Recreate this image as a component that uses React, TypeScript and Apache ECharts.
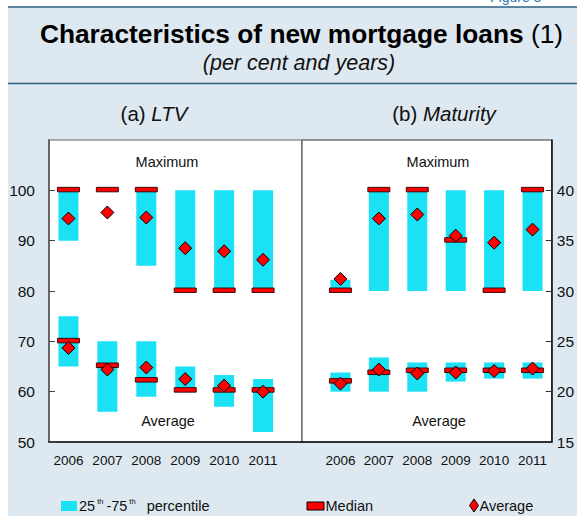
import React, { useEffect, useRef } from "react";
import * as echarts from "echarts";

const years = ["2006", "2007", "2008", "2009", "2010", "2011"];

// (a) LTV – per cent
const ltvMaxP25 = [90, 100, 85, 80, 80, 80];
const ltvMaxP75 = [100, 100, 100, 100, 100, 100];
const ltvMaxMedian = [100, 100, 100, 80, 80, 80];
const ltvMaxAverage = [94.4, 95.6, 94.6, 88.5, 87.9, 86.2];
const ltvAvgP25 = [65, 56, 59, 60, 57, 52];
const ltvAvgP75 = [75, 70, 70, 65, 63.3, 62.5];
const ltvAvgMedian = [70, 65.1, 62.2, 60.2, 60.2, 60.2];
const ltvAvgAverage = [68.7, 64.4, 64.8, 62.5, 61.2, 60];

// (b) Maturity – years
const matMaxP25 = [30, 30, 30, 30, 30, 30];
const matMaxP75 = [31.1, 40, 40, 40, 40, 40];
const matMaxMedian = [30, 40, 40, 35, 30, 40];
const matMaxAverage = [31.2, 37.2, 37.6, 35.5, 34.8, 36.1];
const matAvgP25 = [20, 20, 20, 21, 21.3, 21.3];
const matAvgP75 = [21.9, 23.4, 22.9, 22.9, 22.9, 22.9];
const matAvgMedian = [21, 21.85, 22.05, 22.05, 22.05, 22.05];
const matAvgAverage = [20.8, 22.2, 21.8, 21.9, 22.05, 22.3];

const ltvTicks = [50, 60, 70, 80, 90, 100];
const matTicks = [15, 20, 25, 30, 35, 40];

const CYAN = "#1be1f4";
const RED = "#ff0000";
const BG = "#dde8f0";
const LINE = "#2a5f80";
const FONT = "'Liberation Sans', Arial, Helvetica, sans-serif";

const rangeRows = (lo: number[], hi: number[]) => lo.map((v, i) => [i, v, hi[i]]);
const pointRows = (vals: number[]) => vals.map((v, i) => [i, v]);

function barRender(params: any, api: any) {
  const x = api.value(0);
  const p1 = api.coord([x, api.value(2)]);
  const p0 = api.coord([x, api.value(1)]);
  return {
    type: "rect",
    shape: { x: p1[0] - 10, y: p1[1], width: 20, height: p0[1] - p1[1] },
    style: { fill: CYAN },
  };
}

function medianRender(params: any, api: any) {
  const p = api.coord([api.value(0), api.value(1)]);
  return {
    type: "rect",
    shape: { x: p[0] - 11, y: p[1] - 3, width: 22, height: 4.5 },
    style: { fill: RED, stroke: "#2a0000", lineWidth: 0.9 },
  };
}

function seriesFor(idx: number, p25a: number[], p75a: number[], p25b: number[], p75b: number[], meda: number[], medb: number[], avga: number[], avgb: number[]) {
  return [
    {
      type: "custom",
      name: "25th-75th percentile",
      xAxisIndex: idx,
      yAxisIndex: idx,
      renderItem: barRender,
      encode: { x: 0, y: [1, 2] },
      data: [...rangeRows(p25a, p75a), ...rangeRows(p25b, p75b)],
      z: 2,
    },
    {
      type: "custom",
      name: "Median",
      xAxisIndex: idx,
      yAxisIndex: idx,
      renderItem: medianRender,
      encode: { x: 0, y: 1 },
      data: [...pointRows(meda), ...pointRows(medb)],
      z: 3,
    },
    {
      type: "scatter",
      name: "Average",
      xAxisIndex: idx,
      yAxisIndex: idx,
      symbol: "diamond",
      symbolSize: [13, 13],
      itemStyle: { color: RED, borderColor: "#000", borderWidth: 1, opacity: 1 },
      data: [...pointRows(avga), ...pointRows(avgb)],
      z: 4,
    },
  ];
}

export default function App() {
  const ref = useRef<HTMLDivElement>(null);
  useEffect(() => {
    document.body.style.margin = "0";
    const chart = echarts.init(ref.current!, null, { renderer: "svg" });
    const xAxisCommon = {
      type: "value",
      axisLine: { show: true, onZero: false, lineStyle: { color: "#111", width: 1.5 } },
      axisTick: { show: false },
      splitLine: { show: false },
      axisLabel: {
        customValues: [0, 1, 2, 3, 4, 5],
        formatter: (v: number) => years[Math.round(v)] ?? "",
        margin: 11,
        color: "#111",
        fontSize: 13.5,
        fontFamily: FONT,
      },
    };
    const option: any = {
      animation: false,
      textStyle: { fontFamily: FONT },
      grid: [
        { left: 49, top: 140, width: 253, height: 302, show: true, backgroundColor: "#fff", borderColor: "#666", borderWidth: 1 },
        { left: 302, top: 140, width: 254, height: 302, show: true, backgroundColor: "#fff", borderColor: "#333", borderWidth: 1 },
      ],
      xAxis: [
        { ...xAxisCommon, gridIndex: 0, min: -0.5, max: 6 },
        { ...xAxisCommon, gridIndex: 1, min: -1, max: 5.5 },
      ],
      yAxis: [
        {
          type: "value",
          gridIndex: 0,
          min: 50,
          max: 110,
          interval: 10,
          position: "left",
          axisLine: { show: true, onZero: false, lineStyle: { color: "#666", width: 2 } },
          axisTick: { show: true, inside: true, length: 6, customValues: ltvTicks, lineStyle: { color: "#444" } },
          splitLine: { show: false },
          axisLabel: { customValues: ltvTicks, margin: 14, color: "#111", fontSize: 15.5, fontFamily: FONT },
        },
        {
          type: "value",
          gridIndex: 1,
          min: 15,
          max: 45,
          interval: 5,
          position: "right",
          axisLine: { show: true, onZero: false, lineStyle: { color: "#111", width: 1.5 } },
          axisTick: { show: true, inside: true, length: 6, customValues: matTicks, lineStyle: { color: "#333" } },
          splitLine: { show: false },
          axisLabel: { customValues: matTicks, margin: 5, color: "#111", fontSize: 15.5, fontFamily: FONT },
        },
      ],
      series: [
        ...seriesFor(0, ltvMaxP25, ltvMaxP75, ltvAvgP25, ltvAvgP75, ltvMaxMedian, ltvAvgMedian, ltvMaxAverage, ltvAvgAverage),
        ...seriesFor(1, matMaxP25, matMaxP75, matAvgP25, matAvgP75, matMaxMedian, matAvgMedian, matMaxAverage, matAvgAverage),
      ],
      graphic: [
        { type: "rect", z: -10, shape: { x: 8, y: 7, width: 569, height: 509 }, style: { fill: BG } },
        { type: "line", z: 10, shape: { x1: 8, y1: 7, x2: 577, y2: 7 }, style: { stroke: LINE, lineWidth: 1.6 } },
        { type: "line", z: 10, shape: { x1: 8, y1: 83.5, x2: 577, y2: 83.5 }, style: { stroke: LINE, lineWidth: 1.3 } },
        {
          type: "text", z: 10, x: 490, y: 3.5,
          style: { text: "Figure 3", fill: "#2a7ab0", font: `14px ${FONT}`, textAlign: "left", textVerticalAlign: "bottom" },
        },
        {
          type: "text", z: 10, x: 301.5, y: 34,
          style: {
            text: "{b|Characteristics of new mortgage loans}{n| (1)}",
            textAlign: "center", textVerticalAlign: "middle",
            rich: {
              b: { fontSize: 26.3, fontWeight: "bold", fontFamily: FONT, fill: "#000" },
              n: { fontSize: 26.3, fontFamily: FONT, fill: "#000" },
            },
          },
        },
        {
          type: "text", z: 10, x: 299, y: 63,
          style: { text: "(per cent and years)", fill: "#111", font: `italic 21.5px ${FONT}`, textAlign: "center", textVerticalAlign: "middle" },
        },
        {
          type: "text", z: 10, x: 154, y: 113,
          style: {
            text: "{n|(a) }{i|LTV}", textAlign: "center", textVerticalAlign: "middle",
            rich: {
              n: { fontSize: 20.5, fontFamily: FONT, fill: "#111" },
              i: { fontSize: 20.5, fontStyle: "italic", fontFamily: FONT, fill: "#111" },
            },
          },
        },
        {
          type: "text", z: 10, x: 444, y: 113,
          style: {
            text: "{n|(b) }{i|Maturity}", textAlign: "center", textVerticalAlign: "middle",
            rich: {
              n: { fontSize: 20.5, fontFamily: FONT, fill: "#111" },
              i: { fontSize: 20.5, fontStyle: "italic", fontFamily: FONT, fill: "#111" },
            },
          },
        },
        { type: "text", z: 10, x: 167, y: 162, style: { text: "Maximum", fill: "#111", font: `14.5px ${FONT}`, textAlign: "center", textVerticalAlign: "middle" } },
        { type: "text", z: 10, x: 168, y: 421, style: { text: "Average", fill: "#111", font: `14.5px ${FONT}`, textAlign: "center", textVerticalAlign: "middle" } },
        { type: "text", z: 10, x: 438, y: 162, style: { text: "Maximum", fill: "#111", font: `14.5px ${FONT}`, textAlign: "center", textVerticalAlign: "middle" } },
        { type: "text", z: 10, x: 439, y: 421, style: { text: "Average", fill: "#111", font: `14.5px ${FONT}`, textAlign: "center", textVerticalAlign: "middle" } },
        // legend
        { type: "rect", z: 10, shape: { x: 61, y: 501, width: 16, height: 10 }, style: { fill: CYAN } },
        {
          type: "text", z: 10, x: 79, y: 506,
          style: {
            text: "{t|25}{s|th}{t|-75}{s|th}{t|  percentile}",
            textVerticalAlign: "middle",
            rich: {
              t: { fontSize: 14.5, fontFamily: FONT, fill: "#111", lineHeight: 18 },
              s: { fontSize: 7.5, fontFamily: FONT, fill: "#111", verticalAlign: "top", lineHeight: 18, padding: [0, 3, 0, 2] },
            },
          },
        },
        { type: "rect", z: 10, shape: { x: 307, y: 502, width: 17, height: 8 }, style: { fill: RED, stroke: "#000", lineWidth: 1 } },
        { type: "text", z: 10, x: 325.5, y: 506, style: { text: "Median", fill: "#111", font: `14.5px ${FONT}`, textVerticalAlign: "middle" } },
        { type: "polygon", z: 10, shape: { points: [[474, 499], [478.5, 505.5], [474, 512], [469.5, 505.5]] }, style: { fill: RED, stroke: "#000", lineWidth: 1 } },
        { type: "text", z: 10, x: 479.5, y: 506, style: { text: "Average", fill: "#111", font: `14.5px ${FONT}`, textVerticalAlign: "middle" } },
      ],
    };
    chart.setOption(option);
    return () => chart.dispose();
  }, []);
  return <div ref={ref} style={{ width: 577, height: 516, background: "#fff" }} />;
}
